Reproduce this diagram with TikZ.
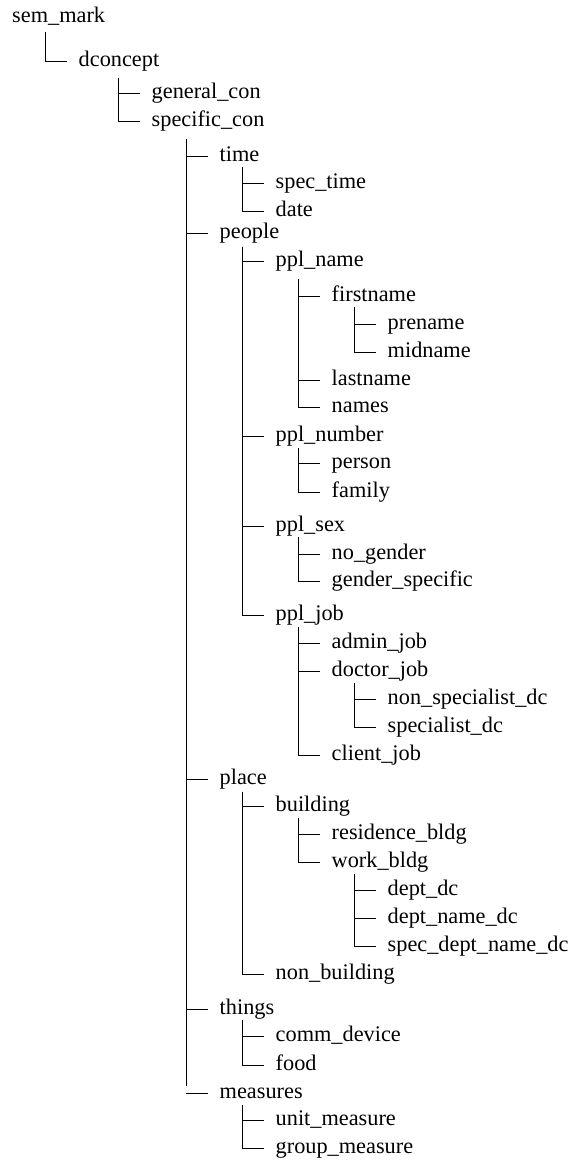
\documentclass[tikz,border=0pt]{standalone}
\usepackage{fontspec}
\setmainfont{Liberation Serif}
\newfontfamily\treefont{Liberation Serif}
\begin{document}
% set the tree font outside the picture so that 1ex (used by the mid anchors) is the label's ex
\treefont\fontsize{22.3}{26}\selectfont
\begin{tikzpicture}[x=1pt,y=-1pt,
  item/.style={anchor=mid west,inner xsep=11.5pt,inner ysep=0pt,font=\treefont\fontsize{22.3}{26}\selectfont},
  branch/.style={line width=0.9pt,black}]
\useasboundingbox (0,0) rectangle (571,1162);

% ---- labels: (x of branch end, y of branch line) ----
\node[item,inner xsep=0pt] (sem-mark) at (12,17.5) {sem\_mark};
\node[item] (dconcept) at (67,61) {dconcept};
\node[item] (general-con) at (140,93.3) {general\_con};
\node[item] (specific-con) at (140,121.7) {specific\_con};
\node[item] (time) at (208,156) {time};
\node[item] (spec-time) at (264,183.3) {spec\_time};
\node[item] (date) at (264,211) {date};
\node[item] (people) at (208,233.3) {people};
\node[item] (ppl-name) at (264,261.7) {ppl\_name};
\node[item] (firstname) at (320,296.7) {firstname};
\node[item] (prename) at (376,324) {prename};
\node[item] (midname) at (376,352.3) {midname};
\node[item] (lastname) at (320,380) {lastname};
\node[item] (names) at (320,407.3) {names};
\node[item] (ppl-number) at (264,436.3) {ppl\_number};
\node[item] (person) at (320,463.3) {person};
\node[item] (family) at (320,492.3) {family};
\node[item] (ppl-sex) at (264,526) {ppl\_sex};
\node[item] (no-gender) at (320,554) {no\_gender};
\node[item] (gender-specific) at (320,581.7) {gender\_specific};
\node[item] (ppl-job) at (264,615.7) {ppl\_job};
\node[item] (admin-job) at (320,643.3) {admin\_job};
\node[item] (doctor-job) at (320,671.7) {doctor\_job};
\node[item] (non-specialist-dc) at (376,699.3) {non\_specialist\_dc};
\node[item] (specialist-dc) at (376,727.3) {specialist\_dc};
\node[item] (client-job) at (320,755.7) {client\_job};
\node[item] (place) at (208,779) {place};
\node[item] (building) at (264,806.7) {building};
\node[item] (residence-bldg) at (320,834.3) {residence\_bldg};
\node[item] (work-bldg) at (320,862.3) {work\_bldg};
\node[item] (dept-dc) at (376,890.7) {dept\_dc};
\node[item] (dept-name-dc) at (376,918.3) {dept\_name\_dc};
\node[item] (spec-dept-name-dc) at (376,946.7) {spec\_dept\_name\_dc};
\node[item] (non-building) at (264,974.6) {non\_building};
\node[item] (things) at (208,1009) {things};
\node[item] (comm-device) at (264,1036.7) {comm\_device};
\node[item] (food) at (264,1065) {food};
\node[item] (measures) at (208,1093) {measures};
\node[item] (unit-measure) at (264,1120.7) {unit\_measure};
\node[item] (group-measure) at (264,1148.3) {group\_measure};

% ---- stems: top of each vertical branch line ----
\coordinate (sem-mark-stem) at (45,32);
\coordinate (dconcept-stem) at (118,77.7);
\coordinate (specific-con-stem) at (186,139.3);
\coordinate (specific-con-end) at (186,1086);
\coordinate (time-stem) at (242,167.3);
\coordinate (people-stem) at (242,246.7);
\coordinate (ppl-name-stem) at (298,279.3);
\coordinate (firstname-stem) at (354,307);
\coordinate (ppl-number-stem) at (298,448.3);
\coordinate (ppl-sex-stem) at (298,537.3);
\coordinate (ppl-job-stem) at (298,627.3);
\coordinate (doctor-job-stem) at (354,683.3);
\coordinate (place-stem) at (242,791.7);
\coordinate (building-stem) at (298,818.3);
\coordinate (work-bldg-stem) at (354,874);
\coordinate (things-stem) at (242,1020);
\coordinate (measures-stem) at (242,1105);

% ---- branches ----
\begin{scope}[branch]
\draw (sem-mark-stem) |- (dconcept.mid west);
\foreach \c in {general-con,specific-con} \draw (dconcept-stem) |- (\c.mid west);
\foreach \c in {time,people,place,things} \draw (specific-con-stem) |- (\c.mid west);
\draw (specific-con-stem) -- (specific-con-end);
\draw (measures.mid west) -- (measures.mid west -| specific-con-stem);
\foreach \c in {spec-time,date} \draw (time-stem) |- (\c.mid west);
\foreach \c in {ppl-name,ppl-number,ppl-sex,ppl-job} \draw (people-stem) |- (\c.mid west);
\foreach \c in {firstname,lastname,names} \draw (ppl-name-stem) |- (\c.mid west);
\foreach \c in {prename,midname} \draw (firstname-stem) |- (\c.mid west);
\foreach \c in {person,family} \draw (ppl-number-stem) |- (\c.mid west);
\foreach \c in {no-gender,gender-specific} \draw (ppl-sex-stem) |- (\c.mid west);
\foreach \c in {admin-job,doctor-job,client-job} \draw (ppl-job-stem) |- (\c.mid west);
\foreach \c in {non-specialist-dc,specialist-dc} \draw (doctor-job-stem) |- (\c.mid west);
\foreach \c in {building,non-building} \draw (place-stem) |- (\c.mid west);
\foreach \c in {residence-bldg,work-bldg} \draw (building-stem) |- (\c.mid west);
\foreach \c in {dept-dc,dept-name-dc,spec-dept-name-dc} \draw (work-bldg-stem) |- (\c.mid west);
\foreach \c in {comm-device,food} \draw (things-stem) |- (\c.mid west);
\foreach \c in {unit-measure,group-measure} \draw (measures-stem) |- (\c.mid west);
\end{scope}
\end{tikzpicture}
\end{document}
